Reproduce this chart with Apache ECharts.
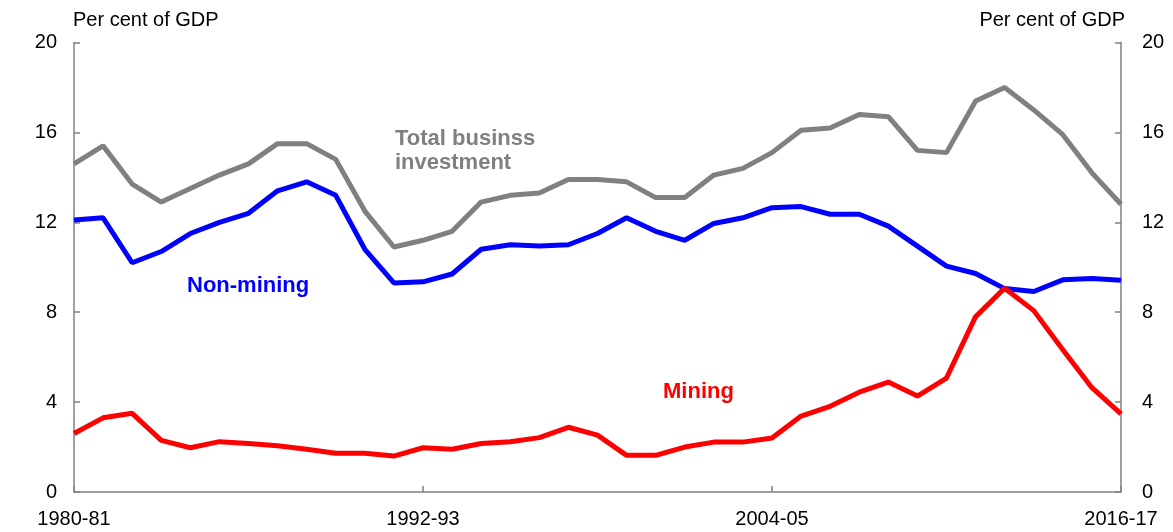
<!DOCTYPE html>
<html>
<head>
<meta charset="utf-8">
<script src="https://cdn.jsdelivr.net/npm/echarts@6/dist/echarts.min.js"></script>
<style>
  html, body { margin: 0; padding: 0; background: #fff; }
  #chart { width: 1173px; height: 532px; }
</style>
</head>
<body>
<div id="chart"></div>
<script>
// financial years, 1980-81 to 2016-17
var years = ['1980-81', '1981-82', '1982-83', '1983-84', '1984-85', '1985-86', '1986-87', '1987-88',
  '1988-89', '1989-90', '1990-91', '1991-92', '1992-93', '1993-94', '1994-95', '1995-96', '1996-97',
  '1997-98', '1998-99', '1999-00', '2000-01', '2001-02', '2002-03', '2003-04', '2004-05', '2005-06',
  '2006-07', '2007-08', '2008-09', '2009-10', '2010-11', '2011-12', '2012-13', '2013-14', '2014-15',
  '2015-16', '2016-17']

// per cent of GDP
var total = [14.6, 15.4, 13.7, 12.9, 13.5, 14.1, 14.6, 15.5, 15.5, 14.8, 12.5, 10.9, 11.2, 11.6,
  12.9, 13.2, 13.3, 13.9, 13.9, 13.8, 13.1, 13.1, 14.1, 14.4, 15.1, 16.1, 16.2, 16.8, 16.7, 15.2,
  15.1, 17.4, 18.0, 17.0, 15.9, 14.2, 12.8]
var nonMining = [12.1, 12.2, 10.2, 10.7, 11.5, 12.0, 12.4, 13.4, 13.8, 13.2, 10.8, 9.3, 9.35, 9.7,
  10.8, 11.0, 10.95, 11.0, 11.5, 12.2, 11.6, 11.2, 11.95, 12.2, 12.65, 12.7, 12.36, 12.36, 11.83,
  10.94, 10.05, 9.72, 9.05, 8.92, 9.44, 9.5, 9.42]
var mining = [2.6, 3.3, 3.5, 2.3, 1.97, 2.24, 2.16, 2.06, 1.9, 1.72, 1.72, 1.6, 1.97, 1.9, 2.16,
  2.24, 2.42, 2.88, 2.53, 1.63, 1.63, 2.0, 2.22, 2.22, 2.4, 3.38, 3.81, 4.44, 4.89, 4.27, 5.07,
  7.8, 9.07, 8.07, 6.33, 4.64, 3.48]

var font = 'Liberation Sans, Arial, sans-serif'
var axisGrey = '#808080'

var chart = echarts.init(document.getElementById('chart'))

function yAxis(pos, margin) {
  return {
    type: 'value',
    position: pos,
    min: 0,
    max: 20,
    interval: 4,
    axisLine: { show: true, lineStyle: { color: axisGrey, width: 1.5 } },
    axisTick: { show: true, inside: true, length: 6, lineStyle: { color: axisGrey, width: 1.5 } },
    axisLabel: { color: '#000', fontFamily: font, fontSize: 20, margin: margin },
    splitLine: { show: false }
  }
}

function line(name, data, color) {
  return {
    name: name,
    type: 'line',
    data: data,
    symbol: 'none',
    lineStyle: { color: color, width: 5 },
    itemStyle: { color: color },
    z: name === 'Mining' ? 4 : 3
  }
}

var option = {
  animation: false,
  grid: { left: 74, right: 52, top: 42.5, bottom: 40 },
  xAxis: {
    type: 'category',
    data: years,
    boundaryGap: false,
    axisLine: { lineStyle: { color: axisGrey, width: 1.5 } },
    axisTick: { inside: true, length: 6, interval: 11, lineStyle: { color: axisGrey, width: 1.5 } },
    axisLabel: { interval: 11, color: '#000', fontFamily: font, fontSize: 20, margin: 17 }
  },
  yAxis: [yAxis('left', 17), yAxis('right', 21)],
  series: [
    line('Total business investment', total, '#808080'),
    line('Non-mining', nonMining, '#0000ff'),
    line('Mining', mining, '#ff0000')
  ],
  graphic: [
    { type: 'text', left: 73, top: 10,
      style: { text: 'Per cent of GDP', font: '20px ' + font, fill: '#000' } },
    { type: 'text', right: 48, top: 10,
      style: { text: 'Per cent of GDP', font: '20px ' + font, fill: '#000' } },
    { type: 'text', left: 395, top: 127,
      style: { text: 'Total businss\ninvestment', font: 'bold 22px ' + font, fill: '#808080', lineHeight: 24 } },
    { type: 'text', left: 187, top: 275,
      style: { text: 'Non-mining', font: 'bold 22px ' + font, fill: '#0000ff' } },
    { type: 'text', left: 663, top: 381,
      style: { text: 'Mining', font: 'bold 22px ' + font, fill: '#ff0000' } }
  ]
}

chart.setOption(option)
</script>
</body>
</html>
